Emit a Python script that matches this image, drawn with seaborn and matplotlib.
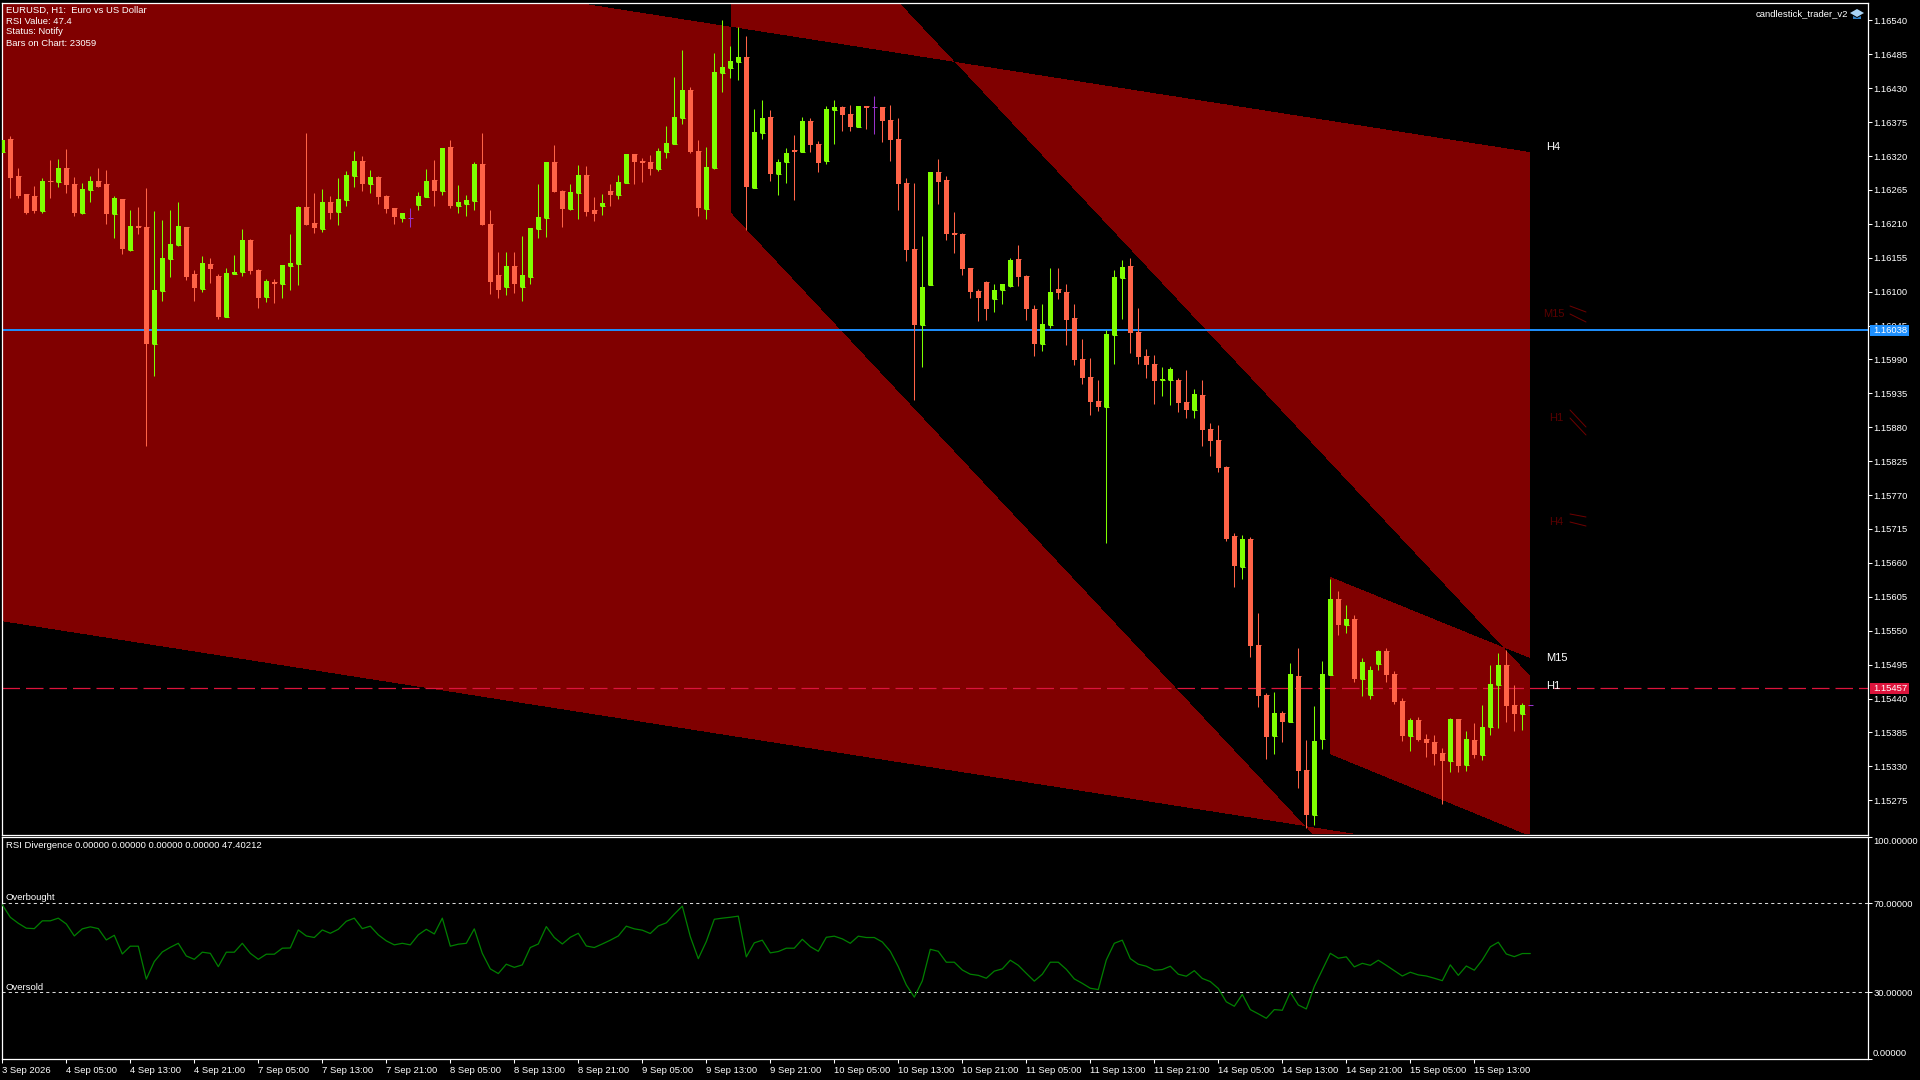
import numpy as np
import pandas as pd
import seaborn as sns
import matplotlib.pyplot as plt
from matplotlib.colors import ListedColormap
from matplotlib.lines import Line2D
from matplotlib.patches import Polygon, Rectangle
from matplotlib.transforms import Affine2D

# EURUSD H1, prices in points above 1.15000 (bar -1 is cut by the left edge)
base_price = 1.15
opens = [1327, 1347, 1287, 1258, 1255, 1231, 1279, 1278, 1300, 1274, 1227, 1265,
         1279, 1274, 1226, 1250, 1167, 1206, 1205, 1015, 1101, 1153, 1175, 1205,
         1128, 1104, 1145, 1125, 1059, 1128, 1132, 1184, 1135, 1091, 1115, 1112,
         1141, 1145, 1237, 1211, 1201, 1245, 1229, 1248, 1287, 1312, 1274, 1286,
         1255, 1235, 1219, 1220, 1240, 1253, 1281, 1263, 1334, 1239, 1242, 1247,
         1307, 1210, 1127, 1108, 1141, 1108, 1124, 1202, 1219, 1310, 1263, 1234,
         1260, 1289, 1232, 1239, 1263, 1257, 1276, 1323, 1312, 1310, 1299, 1326,
         1339, 1382, 1427, 1328, 1234, 1300, 1455, 1463, 1472, 1481, 1268, 1357,
         1383, 1291, 1310, 1330, 1326, 1377, 1339, 1312, 1395, 1399, 1388, 1367,
         1401, 1399, 1399, 1378, 1348, 1276, 1169, 1046, 1111, 1294, 1281, 1195,
         1194, 1138, 1101, 1116, 1088, 1103, 1109, 1153, 1125, 1072, 1015, 1046,
         1104, 1099, 1057, 991, 962, 923, 913, 1030, 1122, 1142, 1035, 996,
         983, 957, 957, 957, 921, 908, 932, 877, 859, 816, 704, 653,
         699, 527, 446, 379, 416, 402, 476, 324, 251, 374, 478, 601,
         559, 569, 472, 446, 496, 517, 480, 436, 379, 405, 374, 369,
         352, 339, 407, 332, 373, 348, 394, 462, 494, 429, 415, 429]
highs = [1346, 1352, 1300, 1258, 1271, 1284, 1313, 1315, 1331, 1286, 1276, 1287,
         1300, 1297, 1255, 1250, 1232, 1237, 1268, 1231, 1216, 1232, 1245, 1205,
         1135, 1158, 1154, 1128, 1138, 1159, 1201, 1185, 1137, 1120, 1120, 1143,
         1193, 1239, 1357, 1260, 1266, 1255, 1284, 1295, 1328, 1320, 1297, 1287,
         1257, 1235, 1227, 1235, 1261, 1299, 1313, 1333, 1346, 1273, 1257, 1310,
         1357, 1232, 1164, 1164, 1164, 1190, 1203, 1275, 1310, 1338, 1265, 1275,
         1305, 1304, 1253, 1258, 1275, 1289, 1323, 1323, 1317, 1322, 1333, 1369,
         1448, 1492, 1432, 1346, 1335, 1487, 1541, 1498, 1529, 1515, 1396, 1411,
         1395, 1315, 1333, 1354, 1383, 1382, 1344, 1401, 1411, 1401, 1403, 1401,
         1401, 1417, 1399, 1403, 1382, 1284, 1276, 1190, 1294, 1315, 1287, 1229,
         1195, 1138, 1104, 1117, 1112, 1112, 1155, 1176, 1127, 1078, 1080, 1138,
         1138, 1112, 1080, 1023, 992, 957, 1038, 1135, 1151, 1155, 1073, 1007,
         997, 978, 978, 960, 973, 942, 957, 887, 884, 817, 708, 705,
         702, 579, 449, 451, 420, 498, 522, 373, 428, 501, 634, 614,
         592, 575, 506, 493, 519, 522, 485, 441, 408, 410, 382, 381,
         360, 408, 407, 387, 400, 429, 494, 514, 519, 462, 433, 429]
lows = [1327, 1252, 1252, 1226, 1227, 1227, 1252, 1270, 1260, 1222, 1226, 1245,
        1270, 1210, 1187, 1161, 1166, 1193, 849, 963, 1085, 1124, 1174, 1119,
        1085, 1099, 1114, 1055, 1059, 1128, 1125, 1128, 1073, 1083, 1081, 1089,
        1102, 1111, 1208, 1195, 1197, 1218, 1208, 1239, 1270, 1263, 1260, 1242,
        1227, 1210, 1213, 1205, 1232, 1253, 1239, 1257, 1235, 1227, 1222, 1232,
        1208, 1096, 1089, 1094, 1097, 1084, 1113, 1187, 1189, 1262, 1205, 1232,
        1218, 1223, 1215, 1224, 1239, 1250, 1276, 1275, 1278, 1289, 1296, 1317,
        1339, 1372, 1325, 1223, 1218, 1299, 1424, 1446, 1443, 1200, 1268, 1348,
        1279, 1257, 1276, 1249, 1326, 1326, 1294, 1307, 1339, 1361, 1361, 1367,
        1364, 1356, 1343, 1312, 1232, 1150, 924, 978, 1111, 1242, 1184, 1163,
        1127, 1090, 1052, 1054, 1067, 1080, 1108, 1109, 1054, 996, 1004, 1041,
        1088, 1013, 981, 950, 900, 906, 693, 983, 1056, 1000, 983, 960,
        918, 931, 916, 905, 895, 895, 850, 833, 807, 696, 621, 634,
        507, 426, 342, 350, 369, 402, 295, 230, 235, 358, 478, 543,
        546, 467, 444, 439, 486, 467, 431, 371, 355, 371, 345, 332,
        269, 321, 321, 322, 343, 340, 381, 392, 402, 387, 389, 429]
closes = [1346, 1284, 1255, 1227, 1231, 1279, 1278, 1300, 1273, 1227, 1266, 1279,
          1270, 1226, 1252, 1169, 1206, 1203, 1015, 1102, 1154, 1177, 1206, 1124,
          1106, 1146, 1137, 1059, 1130, 1132, 1184, 1133, 1089, 1117, 1112, 1143,
          1146, 1237, 1208, 1203, 1245, 1227, 1250, 1289, 1312, 1274, 1286, 1253,
          1234, 1221, 1227, 1220, 1255, 1279, 1263, 1333, 1239, 1245, 1248, 1307,
          1208, 1116, 1103, 1141, 1113, 1127, 1203, 1221, 1310, 1262, 1234, 1262,
          1289, 1229, 1226, 1244, 1257, 1278, 1323, 1310, 1309, 1299, 1328, 1341,
          1383, 1427, 1326, 1236, 1302, 1456, 1464, 1474, 1481, 1270, 1359, 1382,
          1291, 1310, 1325, 1326, 1377, 1338, 1309, 1396, 1399, 1386, 1367, 1401,
          1398, 1399, 1377, 1346, 1275, 1167, 1046, 1108, 1294, 1278, 1193, 1192,
          1137, 1099, 1090, 1072, 1103, 1112, 1151, 1124, 1072, 1015, 1048, 1099,
          1098, 1054, 989, 960, 921, 913, 1031, 1124, 1140, 1033, 994, 981,
          955, 958, 975, 919, 908, 934, 876, 858, 814, 699, 655, 699,
          525, 444, 378, 416, 402, 480, 322, 251, 371, 480, 601, 559,
          569, 472, 499, 486, 517, 478, 434, 379, 405, 373, 368, 350,
          339, 407, 330, 374, 348, 394, 463, 494, 428, 415, 429, 429]

# RSI(14) line of the lower window
rsi_values = [69.3, 63.7, 61.0, 58.8, 58.6, 62.1, 62.1, 63.3, 60.7, 55.3, 58.5, 59.4,
              58.6, 53.5, 55.6, 47.2, 50.7, 50.7, 35.9, 43.8, 48.1, 50.2, 52.0, 46.3,
              44.8, 48.0, 47.5, 41.5, 48.0, 48.0, 52.0, 47.5, 44.8, 47.1, 47.1, 49.8,
              49.9, 58.0, 55.3, 54.6, 58.0, 56.5, 58.3, 61.9, 63.3, 58.6, 59.7, 55.8,
              53.1, 51.3, 52.0, 51.3, 55.8, 58.3, 56.2, 63.3, 50.7, 51.6, 52.0, 58.5,
              47.5, 40.5, 38.4, 42.6, 41.2, 42.3, 50.1, 51.7, 59.5, 54.6, 51.7, 54.7,
              56.5, 50.8, 50.1, 51.7, 53.4, 55.3, 59.7, 58.5, 57.9, 56.4, 59.8, 61.2,
              65.1, 68.7, 55.0, 45.1, 52.8, 62.8, 63.3, 63.7, 64.2, 45.9, 52.2, 53.4,
              47.7, 48.3, 49.8, 49.8, 53.8, 50.5, 48.4, 54.7, 55.2, 54.0, 52.0, 55.2,
              54.6, 54.6, 52.6, 48.4, 41.5, 33.3, 27.8, 35.1, 49.3, 48.4, 43.5, 43.5,
              40.0, 38.1, 37.6, 36.3, 39.5, 40.5, 44.4, 42.1, 38.5, 35.0, 38.1, 43.5,
              43.5, 40.3, 36.0, 34.0, 31.8, 31.2, 44.5, 52.0, 53.4, 45.1, 42.6, 41.7,
              39.9, 40.2, 41.7, 38.1, 37.2, 39.7, 36.2, 34.8, 31.7, 25.7, 23.7, 29.0,
              22.2, 20.3, 18.3, 22.2, 21.9, 30.0, 24.3, 22.5, 32.6, 40.0, 47.5, 45.3,
              45.9, 41.4, 43.0, 42.1, 44.4, 42.1, 39.7, 37.3, 39.0, 37.8, 37.3, 36.3,
              35.2, 42.3, 37.6, 41.8, 39.9, 44.5, 50.4, 52.5, 47.2, 46.0, 47.4, 47.4]

# price channels: first bar, last bar, upper and lower line at both ends (points)
h4_channel = [-2, 190, 1717, 1326, 566, 174]
h1_channel = [90, 190, 1861, 475, 1228, -159]
m15_channel = [165, 190, 636, 504, 348, 215]

ask_price = 1.16038
bid_price = 1.15457
price_ticks = [1.16540, 1.16485, 1.16430, 1.16375, 1.16320, 1.16265, 1.16210, 1.16155,
               1.16100, 1.16045, 1.15990, 1.15935, 1.15880, 1.15825, 1.15770, 1.15715,
               1.15660, 1.15605, 1.15550, 1.15495, 1.15440, 1.15385, 1.15330, 1.15275]
rsi_ticks = [100, 70, 30, 0]
time_labels = ['3 Sep 2026', '4 Sep 05:00', '4 Sep 13:00', '4 Sep 21:00', '7 Sep 05:00',
               '7 Sep 13:00', '7 Sep 21:00', '8 Sep 05:00', '8 Sep 13:00', '8 Sep 21:00',
               '9 Sep 05:00', '9 Sep 13:00', '9 Sep 21:00', '10 Sep 05:00', '10 Sep 13:00',
               '10 Sep 21:00', '11 Sep 05:00', '11 Sep 13:00', '11 Sep 21:00', '14 Sep 05:00',
               '14 Sep 13:00', '14 Sep 21:00', '15 Sep 05:00', '15 Sep 13:00']
info_lines = ['EURUSD, H1:  Euro vs US Dollar', 'RSI Value: 47.4', 'Status: Notify',
              'Bars on Chart: 23059']

UP = '#7FFF00'
DOWN = '#FF6347'
DOJI = '#9932CC'
CHANNEL = '#800000'
FS = 6.8

sns.set_theme(style='dark', rc={'axes.facecolor': 'black', 'figure.facecolor': 'black',
                                'savefig.facecolor': 'black', 'axes.edgecolor': 'white',
                                'axes.linewidth': 0.9, 'xtick.color': 'white',
                                'ytick.color': 'white', 'text.color': 'white'})
plt.rcParams['font.family'] = ['Liberation Sans', 'DejaVu Sans']

df = pd.DataFrame({'bar': np.arange(-1, 191), 'open': opens, 'high': highs, 'low': lows,
                   'close': closes, 'rsi': rsi_values})
for col in ['open', 'high', 'low', 'close']:
    df[col] = base_price + df[col] / 1e5
df['color'] = np.where(df['close'] > df['open'], UP,
                       np.where(df['close'] < df['open'], DOWN, DOJI))

fig = plt.figure(figsize=(19.2, 10.8), dpi=100)
W, H = 1920.0, 1080.0
left, right = 2.0, 1867.5


def panel(top, bottom):
    return fig.add_axes([left / W, 1 - bottom / H, (right - left) / W, (bottom - top) / H])


ax = panel(2.5, 834.5)
ax_rsi = panel(836.5, 1059.0)
px = Affine2D().scale(1, -1).translate(0, H)  # screen pixels, y going down

xlim = ((left - 10.3) / 8, (right - 10.3) / 8)
ylim = (base_price + 219.4 / 1e5, base_price + 1569 / 1e5)


def channel_mask(channel, x, y):
    x0, x1, up0, up1, low0, low1 = channel
    t = (x - x0) / (x1 - x0)
    upper = base_price + (up0 + (up1 - up0) * t) / 1e5
    lower = base_price + (low0 + (low1 - low0) * t) / 1e5
    return (x >= x0) & (x <= x1) & (y <= upper) & (y >= lower)


# overlapping channels cancel out, as the terminal fills them
grid_x, grid_y = np.meshgrid(np.linspace(xlim[0], xlim[1], 1866),
                             np.linspace(ylim[1], ylim[0], 832))
fill = (channel_mask(h4_channel, grid_x, grid_y)
        ^ channel_mask(h1_channel, grid_x, grid_y)
        ^ channel_mask(m15_channel, grid_x, grid_y))
ax.imshow(fill, extent=(xlim[0], xlim[1], ylim[0], ylim[1]), aspect='auto',
          interpolation='nearest', cmap=ListedColormap(['black', CHANNEL]), zorder=0)

ax.axhline(ask_price, color='#1E90FF', lw=1.4, zorder=1)
ax.axhline(bid_price, color='#DC143C', lw=0.9, zorder=1, dashes=(14, 4.8))

# candles
ax.vlines(df['bar'], df['low'], df['high'], colors=df['color'], lw=0.75, zorder=3)
body_low = df[['open', 'close']].min(axis=1)
body_high = df[['open', 'close']].max(axis=1)
ax.bar(df['bar'], body_high - body_low, bottom=body_low, width=0.625, color=df['color'],
       linewidth=0, zorder=3)
ax.hlines(df['open'], df['bar'] - 0.31, df['bar'] + 0.31, colors=df['color'], lw=0.75, zorder=3)

ax.set_xlim(xlim)
ax.set_ylim(ylim)
ax.grid(False)
ax.set_xticks([])
ax.yaxis.tick_right()
ax.set_yticks(price_ticks)
ax.set_yticklabels(['%.5f' % p for p in price_ticks], fontsize=FS)
ax.tick_params(axis='y', length=3, width=0.75, pad=1.5, colors='white', right=True)

# timeframe labels beside the channels
for x, y, name, col in [(1546, 147, 'H4', 'white'), (1543, 314, 'M15', '#5a0000'),
                        (1549, 418, 'H1', '#5a0000'), (1549, 522, 'H4', '#5a0000'),
                        (1546, 658, 'M15', 'white'), (1546, 686, 'H1', 'white'),
                        (1546, 840, 'M15', 'white')]:
    ax.text(x, y, name, transform=px, color=col, fontsize=8, va='center', ha='left',
            clip_on=True, zorder=6)
for x0, y0, x1, y1 in [(1570, 306, 1586, 312), (1570, 314, 1586, 322),
                       (1570, 410, 1586, 427), (1570, 418, 1586, 435),
                       (1570, 514, 1586, 517), (1570, 522, 1586, 526)]:
    ax.add_line(Line2D([x0, x1], [y0, y1], transform=px, color='#700000', lw=0.7, zorder=6))

for i, line in enumerate(info_lines):
    ax.text(6.5, 10 + i * 11, line, transform=px, fontsize=FS, va='center', ha='left', zorder=6)
ax.text(1756, 14, 'candlestick_trader_v2', transform=px, fontsize=FS, va='center', ha='left', zorder=6)
ax.add_patch(Polygon([(1850, 13), (1857, 9), (1864, 13), (1857, 17)], transform=px,
                     color='#a9d3f5', lw=0, zorder=6))
ax.add_patch(Polygon([(1853, 16), (1857, 18), (1861, 16), (1861, 19), (1853, 19)], transform=px,
                     color='#2f7fc4', lw=0, zorder=6))

# current ask and bid tags on the price scale
for y, value, col in [(330.5, ask_price, '#1E90FF'), (688.5, bid_price, '#DC143C')]:
    ax.add_patch(Rectangle((1870, y - 5.5), 39, 11, transform=px, color=col, lw=0,
                           clip_on=False, zorder=7))
    ax.text(1873, y, '%.5f' % value, transform=px, fontsize=FS, va='center', ha='left',
            color='white', clip_on=False, zorder=8)

# RSI window
sns.lineplot(data=df, x='bar', y='rsi', ax=ax_rsi, color='#008000', lw=0.9,
             estimator=None, legend=False, zorder=3)
for level in [70, 30]:
    ax_rsi.axhline(level, color='#d8d8d8', lw=0.75, dashes=(3, 3), zorder=1)
ax_rsi.set_xlim(xlim)
ax_rsi.set_ylim(0, 100)
ax_rsi.grid(False)
ax_rsi.set_xlabel('')
ax_rsi.set_ylabel('')
ax_rsi.yaxis.tick_right()
ax_rsi.set_yticks(rsi_ticks)
# top and bottom labels sit inside the window, so they get placed by hand
ax_rsi.set_yticklabels(['', '%.5f' % 70, '%.5f' % 30, ''], fontsize=FS)
ax_rsi.tick_params(axis='y', length=3, width=0.75, pad=1.5, colors='white', right=True)
ax_rsi.text(1873, 841, '%.5f' % 100, transform=px, fontsize=FS, va='center', ha='left', clip_on=False)
ax_rsi.text(1873, 1053.7, '%.5f' % 0, transform=px, fontsize=FS, va='center', ha='left', clip_on=False)
ax_rsi.set_xticks(np.arange(-1, 191, 8))
time_ticks = ax_rsi.set_xticklabels(time_labels, fontsize=FS)
for label in time_ticks:
    label.set_ha('left')
ax_rsi.tick_params(axis='x', length=3, width=0.75, pad=2.2, colors='white', bottom=True)

ax_rsi.text(5.7, 846, 'RSI Divergence 0.00000 0.00000 0.00000 0.00000 47.40212', transform=px,
            fontsize=FS, va='center', ha='left')
ax_rsi.text(5.7, 898, 'Overbought', transform=px, fontsize=FS, va='center', ha='left')
ax_rsi.text(5.7, 987, 'Oversold', transform=px, fontsize=FS, va='center', ha='left')

fig.savefig('out.png', dpi=100, facecolor='black')
